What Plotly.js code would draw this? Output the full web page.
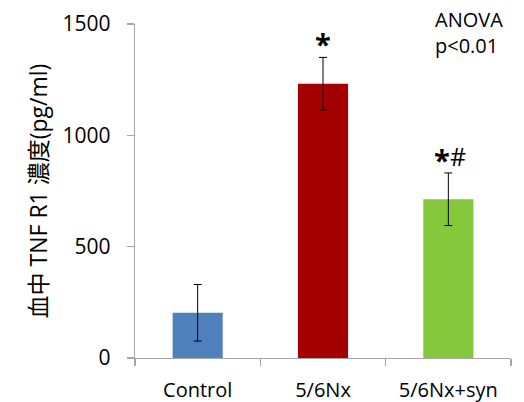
<!DOCTYPE html>
<html>
<head>
<meta charset="utf-8">
<script src="https://cdn.plot.ly/plotly-3.0.1.min.js"></script>
<style>html,body{margin:0;padding:0;background:#fff;}#chart{width:524px;height:402px;}</style>
</head>
<body>
<div id="chart"></div>
<script>
var categories = ["Control", "5/6Nx", "5/6Nx+syn"];
var values = [203, 1232, 713];
var errors = [127, 118, 118];
var barColors = ["#4F81BD", "#A50000", "#86C83C"];
var starMarks = ["", "*", "*"];
var hashMarks = ["", "", "#"];
var yTicks = [0, 500, 1000, 1500];

var fontFam = "'Open Sans', 'Noto Sans CJK JP', sans-serif";

var trace = {
  type: "bar",
  x: categories,
  y: values,
  width: 0.4,
  marker: {color: barColors, line: {width: 0}},
  error_y: {type: "data", array: errors, visible: true, color: "#000", thickness: 1, width: 4},
  hoverinfo: "skip"
};

var annotations = [];
for (var i = 0; i < categories.length; i++) {
  var hasHash = !!hashMarks[i];
  if (starMarks[i]) {
    annotations.push({
      x: categories[i], y: values[i] + errors[i], xref: "x", yref: "y",
      text: "<b>" + starMarks[i] + "</b>", showarrow: false, yanchor: "bottom", yshift: -8,
      xshift: hasHash ? -6 : 0,
      font: {family: fontFam, size: 29, color: "#000"}
    });
  }
  if (hasHash) {
    annotations.push({
      x: categories[i], y: values[i] + errors[i], xref: "x", yref: "y",
      text: hashMarks[i], showarrow: false, yanchor: "bottom", yshift: -2,
      xshift: 10,
      font: {family: fontFam, size: 25, color: "#000"}
    });
  }
}
annotations.push({
  xref: "paper", yref: "paper", x: 1, y: 1.06, xanchor: "right", yanchor: "top", xshift: -6,
  text: "ANOVA<br>p<0.01", align: "left", showarrow: false,
  font: {family: fontFam, size: 20, color: "#000"}
});

var layout = {
  width: 524, height: 402,
  margin: {l: 135, r: 13, t: 24, b: 44},
  paper_bgcolor: "#fff", plot_bgcolor: "#fff",
  showlegend: false,
  bargap: 0.6,
  font: {family: fontFam, color: "#000"},
  xaxis: {
    showline: true, linecolor: "#A6A6A6", linewidth: 1.3,
    ticks: "outside", ticklen: 7, tickcolor: "#A6A6A6", tickwidth: 1.3,
    tickson: "boundaries", ticklabelstandoff: 14,
    tickfont: {family: fontFam, size: 20, color: "#000"},
    showgrid: false, zeroline: false, fixedrange: true
  },
  yaxis: {
    range: [0, 1500],
    tickvals: yTicks, ticktext: yTicks.map(String),
    showline: true, linecolor: "#A6A6A6", linewidth: 1.3,
    ticks: "outside", ticklen: 7, tickcolor: "#A6A6A6", tickwidth: 1.3,
    ticklabelstandoff: 12,
    tickfont: {family: fontFam, size: 21, color: "#000"},
    showgrid: false, zeroline: false, fixedrange: true,
    title: {text: "血中 TNF R1 濃度(pg/ml)", font: {family: fontFam, size: 23, color: "#000"}, standoff: 8}
  },
  annotations: annotations
};

Plotly.newPlot("chart", [trace], layout, {displayModeBar: false, staticPlot: true});
</script>
</body>
</html>
